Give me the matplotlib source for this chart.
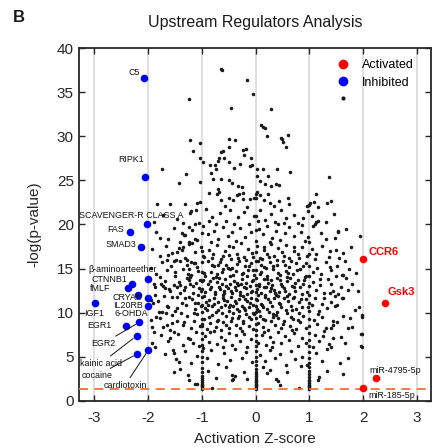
import numpy as np
import matplotlib
matplotlib.use("Agg")
import matplotlib.pyplot as plt
from matplotlib.lines import Line2D

plt.rcParams["font.family"] = ["Liberation Sans", "DejaVu Sans"]
plt.rcParams["axes.unicode_minus"] = False

# ---------------------------------------------------------------------------
# Data (activation z-score, -log10 p-value)
# ---------------------------------------------------------------------------
inhibited_names = ["C5", "RIPK1", "SCAVENGER-R CLASS A", "FAS", "SMAD3",
                   "β-aminoarteether", "CTNNB1", "fMLF", "CRYAB", "CRYAB2",
                   "IL20RB", "IGF1", "6-OHDA", "EGR1", "EGR2", "kainic acid",
                   "cardiotoxin"]
inhibited_z = [-2.08, -2.05, -2.02, -2.33, -2.12, -2.00, -2.30, -2.36, -2.19,
               -1.99, -1.99, -2.99, -2.16, -2.41, -2.21, -2.20, -1.99]
inhibited_p = [36.6, 25.4, 20.1, 19.2, 17.5, 13.85, 13.2, 12.75, 12.0,
               11.65, 10.7, 11.05, 8.9, 8.5, 7.35, 5.3, 5.75]

activated_names = ["CCR6", "Gsk3", "miR-4795-5p", "miR-185-5p"]
activated_z = [2.00, 2.40, 2.23, 2.00]
activated_p = [16.1, 11.1, 2.6, 1.4]

# sparse points above the main cloud
bg_top = [(-0.64, 37.7), (-0.62, 37.5), (-0.16, 36.4), (-1.24, 34.2), (-0.04, 34.8),
          (-0.45, 33.2), (0.29, 33.1), (0.10, 31.3), (0.14, 31.1), (0.18, 30.9),
          (0.22, 30.0), (0.47, 29.8), (0.50, 29.7), (0.51, 29.4), (0.60, 30.2),
          (0.56, 28.8), (-1.21, 29.6), (-1.04, 29.3), (-1.17, 28.3), (-0.49, 29.7),
          (-0.38, 29.6), (-0.61, 28.3), (-0.64, 28.2), (-0.50, 28.8), (-0.24, 28.5),
          (-0.18, 28.6), (-0.21, 27.9), (-0.08, 27.6), (-1.04, 27.6), (-0.98, 27.1),
          (-0.68, 27.5), (-0.70, 27.2), (-0.58, 27.5), (-0.50, 27.1), (-0.84, 26.8),
          (-0.76, 26.8), (-0.74, 26.3), (-1.74, 26.3), (-0.40, 26.4), (-0.29, 26.9),
          (-0.06, 26.7), (0.02, 26.3), (0.14, 26.3), (0.39, 26.3),
          (1.37, 25.4), (-1.43, 24.7), (-1.29, 25.7), (1.13, 23.5), (1.41, 22.7),
          (0.99, 22.2), (1.08, 22.5), (1.16, 22.0), (-0.11, 26.6), (0.24, 25.5),
          (0.64, 26.0), (-0.83, 25.8), (-0.79, 25.2), (-0.64, 25.2), (-0.49, 25.1),
          (-0.44, 24.7), (-0.32, 24.4), (-0.26, 24.3), (0.03, 25.5), (0.08, 24.9),
          (0.18, 24.6), (0.28, 24.4), (0.38, 24.6), (0.44, 24.5), (-1.03, 24.8),
          (-1.83, 22.3), (-1.58, 22.3), (-1.31, 22.3), (-1.09, 22.4), (-1.04, 22.6),
          (-0.86, 23.6), (-0.70, 24.0), (-0.67, 23.7), (-0.72, 23.5), (-0.64, 22.8),
          (-0.34, 23.4), (-0.30, 23.5), (-0.24, 23.6), (-0.49, 23.0), (-0.42, 22.8),
          (-0.23, 22.9), (-0.10, 22.9), (-0.03, 23.0), (0.01, 23.5), (0.03, 23.7),
          (0.08, 23.3), (0.24, 23.5), (0.16, 22.8), (0.27, 22.4), (0.44, 22.7),
          (0.61, 23.0), (0.63, 22.3), (1.02, 22.4), (0.96, 22.1), (1.33, 22.4)]

bg_upper = [(0.98, 21.5), (1.05, 21.0), (1.10, 20.1), (1.13, 20.3), (1.16, 20.4),
            (1.31, 20.3), (0.86, 19.9), (1.06, 19.8), (1.53, 19.3), (1.94, 18.7),
            (0.98, 18.6), (1.30, 18.3), (1.53, 19.2),
            (-1.72, 21.1), (-1.45, 20.6), (-1.20, 21.5), (-1.05, 20.2), (-0.92, 21.8),
            (-0.81, 20.9), (-0.66, 21.3), (-0.55, 20.4), (-0.47, 21.7), (-0.33, 20.8),
            (-0.21, 21.4), (-0.12, 20.1), (-0.02, 21.0), (0.09, 21.6), (0.17, 20.5),
            (0.29, 21.2), (0.36, 20.3), (0.48, 21.6), (0.57, 20.7), (0.71, 21.1),
            (0.79, 20.2), (1.45, 21.2), (-1.88, 20.3), (-0.74, 20.0), (0.41, 20.0),
            (-1.21, 21.3), (-1.10, 21.6), (-1.12, 20.1), (-1.24, 19.75),
            (-1.85, 19.1), (-1.62, 18.4), (-1.51, 19.6), (-1.33, 18.8), (-1.18, 19.4),
            (-1.08, 18.2), (-0.97, 19.8), (-0.89, 18.9), (-0.78, 19.3), (-0.69, 18.3),
            (-0.61, 19.7), (-0.52, 18.7), (-0.44, 19.2), (-0.37, 18.1), (-0.28, 19.6),
            (-0.19, 18.6), (-0.09, 19.1), (0.06, 19.5), (0.13, 18.9),
            (0.22, 19.8), (0.31, 18.5), (0.38, 19.3), (0.46, 18.2), (0.55, 19.0),
            (0.63, 19.7), (0.72, 18.7), (0.84, 19.2), (0.91, 18.1), (1.22, 19.0),
            (1.47, 18.5), (1.68, 19.5), (-1.40, 18.0), (0.27, 18.0), (-0.83, 18.0),
            (-1.78, 18.5), (-1.37, 19.0), (-1.31, 18.8), (-1.24, 18.0), (-1.18, 17.9),
            (-1.12, 18.4),
            (-1.92, 17.2), (-1.77, 16.4), (-1.66, 17.6), (-1.55, 16.8), (-1.42, 17.3),
            (-1.31, 16.2), (-1.24, 17.8), (-1.13, 16.9), (-1.02, 17.4), (-0.95, 16.3),
            (-0.87, 17.1), (-0.79, 16.6), (-0.71, 17.7), (-0.64, 16.1), (-0.57, 17.0),
            (-0.49, 16.5), (-0.42, 17.5), (-0.35, 16.7), (-0.27, 17.9), (-0.21, 16.3),
            (-0.14, 17.2), (-0.06, 16.8), (0.03, 17.6), (0.08, 16.2), (0.15, 17.1),
            (0.21, 16.6), (0.28, 17.8), (0.34, 16.4), (0.42, 17.3), (0.49, 16.9),
            (0.56, 17.7), (0.63, 16.2), (0.71, 17.0), (0.78, 16.6), (0.87, 17.5),
            (0.95, 16.4), (1.04, 17.2), (1.12, 16.7), (1.23, 17.6), (1.36, 16.3),
            (1.49, 17.1), (1.63, 16.8), (1.78, 17.4), (1.38, 17.0), (-1.48, 16.0),
            (-1.64, 16.0), (-1.37, 17.1), (-1.34, 17.5), (-1.46, 16.9), (-1.52, 15.8),
            (-1.27, 16.0), (-1.15, 15.6), (-1.24, 15.0), (1.66, 15.8), (1.38, 15.2),
            (-1.95, 15.1), (-1.84, 14.4), (-1.73, 15.7), (-1.64, 14.8), (-1.57, 15.3),
            (-1.49, 14.2), (-1.41, 15.8), (-1.35, 14.9), (-1.27, 15.4), (-1.19, 14.3),
            (-1.12, 15.6), (-1.06, 14.7), (-0.94, 14.1), (-0.88, 15.9), (-0.83, 14.6),
            (-0.77, 15.3), (-0.71, 14.4), (-0.66, 15.7), (-0.60, 14.9), (-0.54, 15.4),
            (-0.48, 14.2), (-0.43, 15.1), (-0.37, 14.7), (-0.31, 15.8), (-0.26, 14.4),
            (-0.20, 15.3), (-0.14, 14.8), (-0.08, 15.6), (-0.03, 14.3), (0.04, 15.9),
            (0.10, 14.6), (0.16, 15.2), (0.22, 14.1), (0.27, 15.7), (0.33, 14.9),
            (0.39, 15.4), (0.45, 14.3), (0.51, 15.8), (0.57, 14.7), (0.62, 15.2),
            (0.69, 14.4), (0.75, 15.6), (0.82, 14.9), (0.88, 15.3), (0.94, 14.2),
            (1.07, 14.6), (1.14, 15.1), (1.22, 14.4), (1.31, 15.7), (1.40, 14.8),
            (1.52, 15.3), (1.61, 14.3), (1.73, 15.0), (1.86, 14.5), (1.49, 14.2),
            (1.63, 14.3), (-1.22, 14.0), (0.58, 14.0), (-1.24, 13.7)]

bg_core = [(-1.69, 13.6), (-1.58, 12.4), (-1.52, 13.1), (-1.33, 12.6), (-1.28, 13.9),
           (-1.16, 12.2), (-1.10, 13.4), (-1.05, 12.8), (-0.97, 13.7), (-0.93, 12.3),
           (-0.88, 13.2), (-0.84, 12.7), (-0.79, 13.9), (-0.75, 12.1), (-0.72, 13.5),
           (-0.68, 12.9), (-0.63, 13.3), (-0.59, 12.4), (-0.56, 13.8), (-0.51, 12.8),
           (-0.47, 13.2), (-0.44, 12.2), (-0.40, 13.6), (-0.36, 12.6), (-0.33, 13.1),
           (-0.29, 12.3), (-0.25, 13.8), (-0.22, 12.9), (-0.18, 13.4), (-0.15, 12.1),
           (-0.11, 13.0), (-0.07, 12.5), (-0.04, 13.7), (0.03, 12.7), (0.07, 13.3),
           (0.11, 12.2), (0.15, 13.8), (0.19, 12.9), (0.23, 13.4), (0.27, 12.4),
           (0.31, 13.1), (0.35, 12.6), (0.40, 13.9), (0.44, 12.3), (0.48, 13.3),
           (0.53, 12.8), (0.58, 13.6), (0.62, 12.1), (0.67, 13.0), (0.73, 12.5),
           (0.78, 13.7), (0.83, 12.9), (0.89, 13.2), (0.95, 12.3), (1.06, 13.5),
           (1.12, 12.6), (1.19, 13.1), (1.27, 12.2), (1.35, 13.8), (1.58, 12.9),
           (1.80, 13.3), (1.91, 12.4), (-0.61, 12.0), (0.38, 12.0), (-1.42, 13.5),
           (-1.89, 13.3), (-1.86, 12.9), (-1.76, 13.3), (-1.72, 13.0), (-1.69, 12.8),
           (-1.86, 12.0), (-1.40, 12.2), (-1.46, 12.9), (-1.40, 13.1), (-1.21, 13.3),
           (1.41, 13.3), (1.44, 12.4), (1.38, 12.2), (1.47, 11.9), (1.53, 12.1),
           (1.63, 11.7), (1.72, 12.6), (1.41, 11.2), (1.47, 10.7),
           (-1.95, 11.4), (-1.91, 11.1), (-1.80, 10.1), (-1.84, 9.5), (-1.46, 10.5),
           (-1.37, 11.1), (-1.31, 11.6), (-1.64, 10.7), (-1.74, 10.1), (-1.55, 9.7),
           (-1.81, 11.3), (-1.63, 10.6), (-1.55, 11.8), (-1.49, 10.2), (-1.29, 10.9),
           (-1.18, 11.5), (-1.13, 10.4), (-1.07, 11.1), (-1.02, 10.7), (-0.96, 11.9),
           (-0.91, 10.3), (-0.86, 11.4), (-0.81, 10.8), (-0.77, 11.7), (-0.73, 10.1),
           (-0.69, 11.2), (-0.65, 10.6), (-0.61, 11.6), (-0.57, 10.9), (-0.53, 11.3),
           (-0.49, 10.2), (-0.45, 11.8), (-0.41, 10.7), (-0.37, 11.1), (-0.34, 10.4),
           (-0.30, 11.5), (-0.26, 10.8), (-0.23, 11.9), (-0.19, 10.3), (-0.16, 11.3),
           (-0.12, 10.6), (-0.08, 11.7), (-0.05, 10.9), (0.02, 11.4), (0.06, 10.2),
           (0.10, 11.0), (0.14, 10.6), (0.18, 11.8), (0.22, 10.4), (0.26, 11.2),
           (0.30, 10.8), (0.34, 11.6), (0.39, 10.1), (0.43, 11.1), (0.47, 10.6),
           (0.52, 11.7), (0.56, 10.3), (0.61, 11.3), (0.66, 10.8), (0.71, 11.8),
           (0.76, 10.4), (0.81, 11.2), (0.87, 10.6), (0.93, 11.5), (1.05, 10.9),
           (1.11, 11.7), (1.17, 10.2), (1.24, 11.0), (1.32, 10.5), (1.52, 10.9),
           (1.60, 11.6), (1.84, 10.3), (-1.38, 10.0), (0.80, 10.0), (-0.05, 10.0),
           (-1.77, 9.4), (-1.67, 9.9), (-1.45, 9.1), (-1.34, 8.6), (-1.27, 9.6),
           (-1.20, 8.2), (-1.14, 9.0), (-1.08, 9.8), (-1.03, 8.5), (-0.95, 9.3),
           (-0.90, 8.1), (-0.84, 8.8), (-0.80, 9.7), (-0.74, 8.4), (-0.70, 9.2),
           (-0.64, 8.0), (-0.60, 8.9), (-0.55, 9.6), (-0.50, 8.3), (-0.46, 9.1),
           (-0.42, 9.9), (-0.37, 8.6), (-0.32, 9.4), (-0.28, 8.2), (-0.23, 9.0),
           (-0.18, 9.8), (-0.13, 8.5), (-0.09, 9.3), (-0.04, 8.1), (0.04, 8.8),
           (0.09, 9.6), (0.13, 8.4), (0.18, 9.2), (0.23, 8.0), (0.28, 9.0),
           (0.33, 9.8), (0.37, 8.6), (0.42, 9.4), (0.47, 8.2), (0.53, 9.1),
           (0.58, 9.9), (0.64, 8.5), (0.69, 9.3), (0.75, 8.1), (0.82, 8.9),
           (0.88, 9.6), (0.94, 8.3), (1.08, 9.2), (1.15, 8.7), (1.23, 9.5),
           (1.31, 8.2), (1.52, 8.9), (1.62, 9.6), (1.80, 8.4), (-1.58, 8.0),
           (-1.95, 9.2), (-1.92, 8.4), (-1.71, 8.4), (-1.64, 8.6), (-1.55, 8.8),
           (1.75, 9.35), (1.43, 9.1), (1.44, 8.6), (1.41, 8.2), (1.72, 8.2),
           (1.92, 10.6), (1.97, 9.7), (1.97, 9.5)]

# extra points filling the densest part of the cloud
bg_dense = [(-1.26, 14.35), (-1.17, 13.05), (-1.09, 15.15), (-1.01, 12.45), (-0.96, 14.55),
            (-0.92, 11.15), (-0.85, 13.55), (-0.81, 15.45), (-0.76, 12.35), (-0.73, 14.05),
            (-0.69, 10.35), (-0.66, 12.65), (-0.62, 14.65), (-0.58, 11.45), (-0.55, 13.05),
            (-0.52, 15.05), (-0.48, 10.85), (-0.46, 12.45), (-0.42, 14.25), (-0.39, 11.35),
            (-0.35, 13.35), (-0.31, 9.65), (-0.28, 12.05), (-0.24, 14.55), (-0.21, 10.55),
            (-0.17, 12.75), (-0.13, 15.25), (-0.10, 11.05), (-0.06, 13.55), (-0.02, 9.85),
            (0.05, 12.05), (0.08, 14.35), (0.12, 10.85), (0.16, 12.95), (0.20, 15.05),
            (0.24, 11.55), (0.28, 13.65), (0.32, 9.45), (0.36, 12.25), (0.41, 14.55),
            (0.45, 10.95), (0.50, 13.05), (0.54, 15.35), (0.59, 11.85), (0.64, 13.95),
            (0.68, 10.25), (0.72, 12.85), (0.77, 14.85), (0.84, 11.55), (0.90, 13.75),
            (0.97, 10.65), (-1.23, 11.75), (-1.15, 9.95), (-1.06, 12.05), (-0.99, 8.75),
            (-0.94, 10.55), (-0.87, 9.45), (-0.83, 12.85), (-0.78, 10.95), (-0.71, 9.05),
            (-0.67, 13.95), (-0.63, 9.95), (-0.59, 12.25), (-0.54, 8.55), (-0.50, 10.65),
            (-0.47, 14.95), (-0.43, 9.35), (-0.38, 12.95), (-0.34, 15.55), (-0.30, 10.15),
            (-0.27, 13.25), (-0.23, 8.85), (-0.20, 11.55), (-0.16, 14.15), (-0.12, 9.55),
            (-0.09, 12.35), (-0.05, 14.85), (0.03, 10.45), (0.06, 13.05), (0.10, 15.45),
            (0.14, 9.25), (0.17, 11.95), (0.21, 13.85), (0.25, 10.05), (0.29, 12.75),
            (0.33, 15.25), (0.38, 9.75), (0.42, 11.85), (0.46, 13.75), (0.51, 8.75),
            (0.55, 12.45), (0.60, 14.45), (0.65, 9.55), (0.70, 11.65), (0.74, 13.35),
            (0.79, 9.15), (0.86, 12.15), (0.92, 14.05), (-1.31, 12.85), (-1.20, 15.75),
            (-1.12, 11.05), (-1.04, 13.75), (-0.98, 16.45), (-0.89, 10.85), (-0.80, 16.25),
            (-0.70, 15.35), (-0.60, 16.45), (-0.45, 16.05), (-0.32, 16.25), (-0.18, 15.95),
            (-0.04, 16.35), (0.12, 16.05), (0.25, 16.35), (0.40, 15.95), (0.53, 16.45),
            (0.66, 15.85), (0.80, 16.15), (0.93, 15.65), (1.10, 16.05), (1.20, 13.85),
            (1.28, 11.65), (1.16, 9.85), (1.25, 7.35), (1.07, 6.05), (-1.22, 6.95),
            (-1.33, 8.95), (-1.45, 11.75), (-1.60, 12.65), (-1.50, 14.65), (-1.62, 16.55),
            (-1.35, 20.15), (-0.86, 20.45), (-0.40, 20.05), (0.05, 20.35), (0.52, 20.15),
            (0.88, 20.75), (-0.57, 22.15), (-0.15, 21.95), (0.35, 22.05), (-1.00, 19.05),
            (0.15, 17.45), (-0.50, 17.55), (0.72, 17.45), (-1.70, 11.85), (-1.78, 14.05),
            (1.68, 13.95), (1.55, 16.25), (-0.97, 5.95), (-0.60, 6.05), (0.30, 6.05),
            (0.68, 8.05), (-0.25, 7.95), (-0.85, 7.75), (0.15, 7.85)]

bg_lower = [(-1.88, 7.8), (-1.52, 7.8), (-1.58, 7.1), (-1.92, 6.5), (-1.86, 6.1),
            (-1.53, 5.75), (-1.52, 5.4), (-1.43, 4.4), (-1.52, 3.3), (-1.24, 2.35),
            (-1.12, 1.9), (1.44, 7.1), (1.41, 6.1), (1.72, 4.9), (1.95, 7.6),
            (1.97, 7.6), (1.96, 6.2), (1.97, 6.1),
            (-1.75, 7.4), (-1.63, 6.8), (-1.44, 7.6), (-1.35, 6.3), (-1.26, 7.1),
            (-1.17, 6.6), (-1.11, 7.8), (-1.05, 6.2), (-0.93, 7.3), (-0.86, 6.7),
            (-0.78, 7.9), (-0.71, 6.4), (-0.64, 7.2), (-0.57, 6.9), (-0.50, 7.7),
            (-0.43, 6.3), (-0.36, 7.4), (-0.29, 6.8), (-0.22, 7.6), (-0.15, 6.1),
            (-0.08, 7.0), (0.05, 6.6), (0.12, 7.5), (0.19, 6.3), (0.26, 7.2),
            (0.33, 6.7), (0.41, 7.8), (0.48, 6.5), (0.55, 7.3), (0.63, 6.9),
            (0.71, 7.7), (0.79, 6.2), (0.86, 7.1), (0.93, 6.6), (1.10, 7.4),
            (1.18, 6.8), (1.27, 7.9), (1.36, 6.4), (1.58, 7.2), (1.66, 6.5),
            (-1.68, 5.3), (-1.47, 4.7), (-1.31, 5.6), (-1.19, 4.3), (-1.08, 5.1),
            (-0.91, 4.8), (-0.82, 5.7), (-0.69, 4.2), (-0.58, 5.4), (-0.47, 4.6),
            (-0.38, 5.9), (-0.26, 4.9), (-0.17, 5.5), (-0.07, 4.4), (0.08, 5.2),
            (0.17, 4.5), (0.27, 5.8), (0.36, 4.8), (0.45, 5.3), (0.57, 4.1),
            (0.66, 5.6), (0.74, 4.7), (0.87, 5.0), (1.13, 5.4), (1.24, 4.5),
            (1.33, 5.9), (1.56, 4.3), (0.95, 4.0),
            (-1.41, 3.6), (-1.25, 2.9), (-0.88, 3.4), (-0.73, 2.6), (-0.55, 3.8),
            (-0.38, 2.8), (-0.22, 3.3), (0.22, 3.1), (0.58, 3.2), (0.84, 3.9),
            (1.18, 2.7), (1.32, 3.4), (1.63, 3.0), (-0.44, 2.9), (-0.41, 2.5),
            (-0.44, 2.35), (-0.16, 2.45), (-0.81, 1.4), (-1.09, 1.9), (0.38, 2.5),
            (0.42, 2.2), (0.45, 1.8), (0.81, 1.4), (1.16, 2.4), (0.14, 3.8),
            (0.27, 3.5)]

# regulators sitting exactly on integer z-scores
col_minus1 = [1.35, 1.5, 1.65, 1.8, 1.95, 2.1, 2.3, 2.55, 2.8, 3.2, 3.7, 4.4, 5.0,
              5.6, 6.3, 7.0, 7.7, 8.5, 9.3, 10.1, 10.9, 11.8, 12.7, 13.6, 14.6,
              15.7, 17.0]
col_zero = [1.35, 1.5, 1.65, 1.8, 1.95, 2.1, 2.25, 2.4, 2.6, 2.8, 3.0, 3.3, 3.6,
            4.0, 4.5, 5.0, 5.6, 6.2, 6.8, 7.4, 8.0, 8.7, 9.4, 10.1, 10.8, 11.5,
            12.3, 13.1, 13.9, 14.8, 15.8, 16.9, 18.1, 19.4, 21.0, 23.0]
col_plus1 = [1.35, 1.5, 1.65, 1.8, 2.0, 2.2, 2.4, 2.7, 3.0, 3.4, 3.8, 4.3, 4.9,
             5.5, 6.2, 6.9, 7.7, 8.5, 9.3, 10.2, 11.1, 12.0, 13.0, 14.1, 15.3,
             16.6, 18.0]

threshold = 1.3

# ---------------------------------------------------------------------------
# Figure
# ---------------------------------------------------------------------------
fig = plt.figure(figsize=(4.34, 4.48), dpi=100)
ax = fig.add_axes([0.183, 0.1056, 0.809, 0.7866])

bg = np.array(bg_top + bg_upper + bg_core + bg_dense + bg_lower)
bg_x = np.concatenate([bg[:, 0], np.full(len(col_minus1), -1.0),
                       np.full(len(col_zero), 0.0), np.full(len(col_plus1), 1.0)])
bg_y = np.concatenate([bg[:, 1], col_minus1, col_zero, col_plus1])

for xv in range(-3, 4):
    ax.axvline(xv, color="#dcdcdc", lw=1.3, zorder=0)

ax.scatter(bg_x, bg_y, s=6.5, color="#1a1a1a", linewidths=0, zorder=2)
ax.axhline(threshold, color="#f5712e", lw=1.3, ls=(0, (5, 3.5)), zorder=3)
ax.scatter(inhibited_z, inhibited_p, s=30, color="#0000ff", linewidths=0, zorder=4)
ax.scatter(activated_z, activated_p, s=30, color="#ff0000", linewidths=0, zorder=4)

# labels for inhibited regulators
lab_kw = dict(fontsize=6.4, color="#111111", va="center", zorder=5)
ax.text(-2.25, 37.3, "C5", ha="center", **lab_kw)
ax.text(-2.31, 27.4, "RIPK1", ha="center", **lab_kw)
ax.text(-2.30, 21.0, "SCAVENGER-R CLASS A", ha="center", **lab_kw)
ax.text(-2.45, 19.4, "FAS", ha="right", **lab_kw)
ax.text(-2.21, 17.75, "SMAD3", ha="right", **lab_kw)
ax.text(-2.47, 14.9, "β-aminoarteether", ha="center", **lab_kw)
ax.text(-2.39, 13.8, "CTNNB1", ha="right", **lab_kw)
ax.text(-2.69, 12.76, "fMLF", ha="right", **lab_kw)
ax.text(-2.11, 11.74, "CRYAB", ha="right", **lab_kw)
ax.text(-2.09, 10.75, "IL20RB", ha="right", **lab_kw)
ax.text(-2.99, 9.85, "IGF1", ha="center", **lab_kw)
ax.text(-2.00, 9.85, "6-OHDA", ha="right", **lab_kw)
ax.text(-2.68, 8.5, "EGR1", ha="right", **lab_kw)

line_kw = dict(arrowprops=dict(arrowstyle="-", color="#111111", lw=0.7,
                               shrinkA=0, shrinkB=3), **lab_kw)
ax.annotate("EGR2", xy=(-2.16, 8.9), xytext=(-2.60, 6.5), ha="right", **line_kw)
ax.annotate("kainic acid", xy=(-2.21, 7.35), xytext=(-2.48, 4.25), ha="right", **line_kw)
ax.annotate("cocaine", xy=(-2.20, 5.3), xytext=(-2.66, 2.84), ha="right", **line_kw)
ax.annotate("cardiotoxin", xy=(-1.99, 5.75), xytext=(-2.42, 1.78), ha="center", **line_kw)

# labels for activated regulators
ax.text(2.09, 16.85, "CCR6", color="#ff0000", fontsize=8, fontweight="bold", va="center")
ax.text(2.46, 12.3, "Gsk3", color="#ff0000", fontsize=8, fontweight="bold", va="center")
ax.text(2.11, 3.48, "miR-4795-5p", ha="left", **lab_kw)
ax.text(2.09, 0.57, "miR-185-5p", ha="left", **lab_kw)

ax.set_xlim(-3.27, 3.25)
ax.set_ylim(0, 40)
ax.set_xticks(range(-3, 4))
ax.set_yticks(range(0, 41, 5))
ax.tick_params(direction="in", top=True, right=True, length=4, width=1,
               labelsize=11, colors="#262626")
ax.tick_params(axis="x", pad=7.5)
ax.tick_params(axis="y", pad=4)
for sp in ax.spines.values():
    sp.set_color("#262626")
    sp.set_linewidth(1.3)

ax.set_xlabel("Activation Z-score", fontsize=11, color="#262626", labelpad=5)
ax.set_ylabel("-log(p-value)", fontsize=11, color="#262626", labelpad=11)

handles = [Line2D([], [], marker="o", ls="", color="#ff0000", markersize=7, mew=0),
           Line2D([], [], marker="o", ls="", color="#0000ff", markersize=7, mew=0),
           Line2D([], [], marker="o", ls="", color="#1a1a1a", markersize=3, mew=0)]
ax.legend(handles, ["Activated", "Inhibited", ""], loc="upper left",
          bbox_to_anchor=(337 / 434, 1 - 59.5 / 448), bbox_transform=fig.transFigure,
          frameon=False, fontsize=9, handlelength=1.0, handletextpad=1.0,
          labelspacing=0.4, borderpad=0, borderaxespad=0)

fig.text(255 / 434, 1 - 22 / 448, "Upstream Regulators Analysis", ha="center",
         va="center", fontsize=11.5, color="#1a1a1a")
fig.text(13 / 434, 1 - 18 / 448, "B", ha="left", va="center", fontsize=12,
         fontweight="bold", color="#1a1a1a")

fig.savefig("out.png", dpi=100)
